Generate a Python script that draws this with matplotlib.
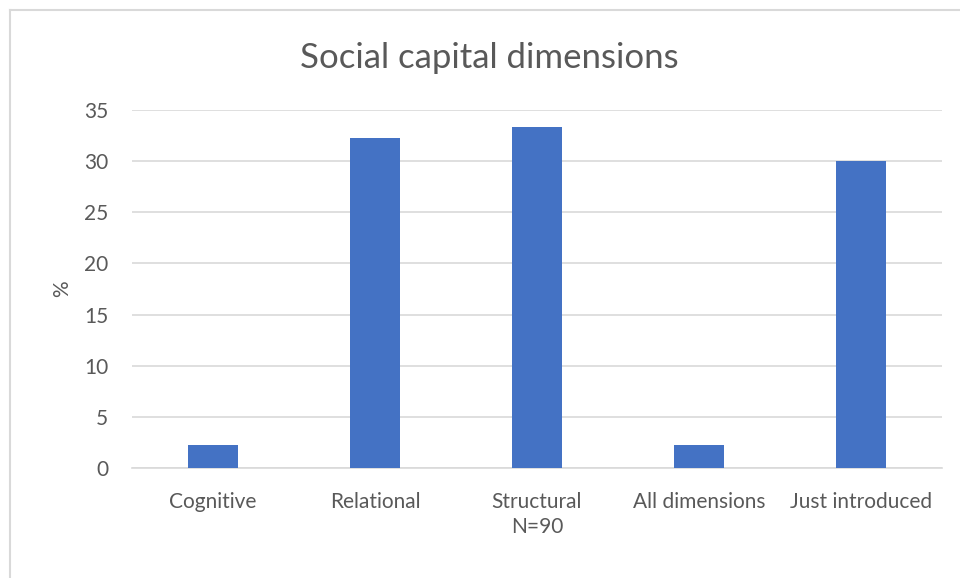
import matplotlib
matplotlib.use("Agg")
import matplotlib.pyplot as plt
from matplotlib.lines import Line2D

# survey shares, N=90 respondents
categories = ["Cognitive", "Relational", "Structural", "All dimensions", "Just introduced"]
counts = [2, 29, 30, 2, 27]
n_total = 90
percent = [c / n_total * 100 for c in counts]
yticks = [0, 5, 10, 15, 20, 25, 30, 35]

plt.rcParams['font.family'] = ['Lato', 'DejaVu Sans']
text_col = "#595959"
grid_col = "#d9d9d9"
bar_col = "#4472C4"

fig = plt.figure(figsize=(9.6, 5.78), dpi=100)
ax = fig.add_axes([0.1375, 0.1903, 0.84375, 0.6194])

x = list(range(len(categories)))
ax.bar(x, percent, width=0.31, color=bar_col, zorder=3)

ax.set_xlim(-0.5, len(categories) - 0.5)
ax.set_ylim(0, 35)
ax.set_yticks(yticks)
ax.set_xticks(x)
ax.set_xticklabels(categories)
ax.grid(axis="y", color=grid_col, linewidth=1.2, zorder=0)
ax.tick_params(axis="both", length=0, labelsize=15, colors=text_col)
ax.tick_params(axis="x", pad=17)
ax.tick_params(axis="y", pad=17)
for side in ["top", "right", "left"]:
    ax.spines[side].set_visible(False)
ax.spines["bottom"].set_color(grid_col)
ax.spines["bottom"].set_linewidth(1.2)

ax.set_xlabel("N=90", fontsize=15, color=text_col, labelpad=4)
ax.set_ylabel("%", fontsize=15, color=text_col, labelpad=9)

fig.text(0.51, 0.90, "Social capital dimensions", ha="center", va="center",
         fontsize=25, color=text_col)

# chart frame (top and left edges)
W, H = 960, 578
fig.add_artist(Line2D([10 / W, 1.0], [1 - 10 / H, 1 - 10 / H], color=grid_col, linewidth=1.5))
fig.add_artist(Line2D([10 / W, 10 / W], [0.0, 1 - 10 / H], color=grid_col, linewidth=1.5))

fig.savefig("out.png", dpi=100)
